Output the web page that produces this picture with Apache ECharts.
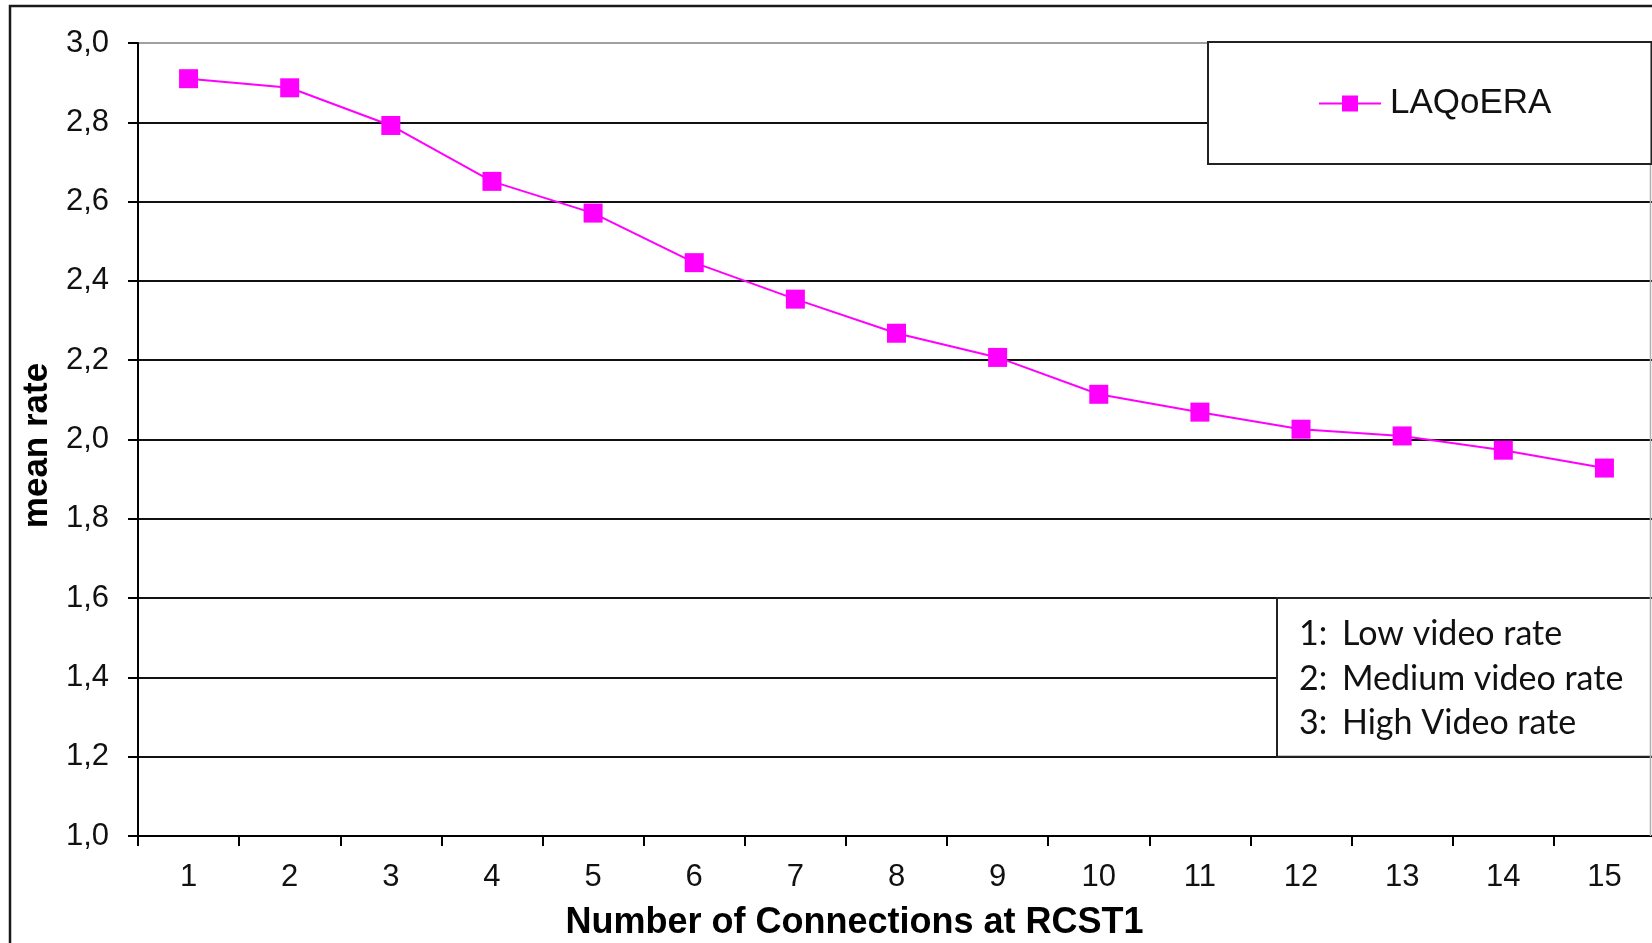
<!DOCTYPE html>
<html>
<head>
<meta charset="utf-8">
<script src="https://cdn.jsdelivr.net/npm/echarts@6/dist/echarts.min.js"></script>
<style>
  html, body { margin: 0; padding: 0; background: #fff; }
  #chart { width: 1652px; height: 943px; }
</style>
</head>
<body>
<div id="chart"></div>
<script>
// Connections at RCST1 (x categories)
const categories = ['1','2','3','4','5','6','7','8','9','10','11','12','13','14','15'];
// Mean rate achieved by LAQoERA
const laqoeraMeanRate = [2.910, 2.887, 2.792, 2.651, 2.571, 2.446, 2.354, 2.268, 2.207, 2.114, 2.069, 2.026, 2.009, 1.973, 1.928];
// Y tick labels (decimal comma)
const yTickLabels = ['1,0','1,2','1,4','1,6','1,8','2,0','2,2','2,4','2,6','2,8','3,0'];
// Rate-level key shown in the note box
const keyNumbers = ['1:', '2:', '3:'];
const keyTexts = ['Low video rate', 'Medium video rate', 'High Video rate'];

const AXIS_FONT = '"Liberation Sans", Arial, sans-serif';
const NOTE_FONT = 'Lato, "Open Sans", sans-serif';
const chart = echarts.init(document.getElementById('chart'), null, { renderer: 'canvas' });

// gridlines: black, the top one (3,0) drawn lighter like the plot border
const gridColors = yTickLabels.map((_, i) => i === yTickLabels.length - 1 ? '#a0a0a0' : '#111');

chart.setOption({
  animation: false,
  backgroundColor: '#fff',
  grid: {
    left: 138, top: 43, right: -3, bottom: 107,
    containLabel: false,
    outerBoundsMode: 'none',
    show: true, borderColor: '#a8a8a8', borderWidth: 1.5, backgroundColor: 'transparent'
  },
  legend: {
    left: 1208, top: 42,
    padding: [44, 100, 43, 110],
    backgroundColor: '#fff',
    borderColor: '#222', borderWidth: 2,
    itemWidth: 62, itemHeight: 20,
    textStyle: { fontFamily: AXIS_FONT, fontSize: 35, color: '#111', padding: [0, 0, 0, 4] },
    data: ['LAQoERA']
  },
  xAxis: {
    type: 'category',
    data: categories,
    boundaryGap: true,
    name: 'Number of Connections at RCST1',
    nameLocation: 'middle',
    nameGap: 69,
    nameTextStyle: { fontFamily: AXIS_FONT, fontSize: 36, fontWeight: 'bold', color: '#000', padding: [0, 84, 0, 0] },
    axisLine: { lineStyle: { color: '#000', width: 2 } },
    axisTick: { show: true, alignWithLabel: false, length: 10, lineStyle: { color: '#000', width: 2 } },
    axisLabel: { fontFamily: AXIS_FONT, fontSize: 31, color: '#111', margin: 26 },
    splitLine: { show: false }
  },
  yAxis: {
    type: 'value',
    min: 1.0, max: 3.0, interval: 0.2,
    name: 'mean rate',
    nameLocation: 'middle',
    nameRotate: 90,
    nameGap: 76,
    nameTextStyle: { fontFamily: AXIS_FONT, fontSize: 35, fontWeight: 'bold', color: '#000', padding: [0, 12, 0, 0] },
    axisLine: { show: true, lineStyle: { color: '#000', width: 2 } },
    axisTick: { show: true, length: 10, lineStyle: { color: '#000', width: 2 } },
    axisLabel: {
      fontFamily: AXIS_FONT, fontSize: 31, color: '#111', margin: 29,
      formatter: (v, i) => yTickLabels[i]
    },
    splitLine: { show: true, lineStyle: { color: gridColors, width: 2 } }
  },
  series: [{
    name: 'LAQoERA',
    type: 'line',
    data: laqoeraMeanRate,
    symbol: 'rect',
    symbolSize: 19,
    lineStyle: { color: '#ff00ff', width: 2 },
    itemStyle: { color: '#ff00ff' },
    z: 5
  }]
});

// Outer chart frame, right plot-area edge and the rate-level note box
// (the box is anchored to the 1,6 and 1,2 gridlines)
function drawOverlays() {
  const yTop = chart.convertToPixel({ yAxisIndex: 0 }, 1.6);
  const yBot = chart.convertToPixel({ yAxisIndex: 0 }, 1.2);
  const yMax = chart.convertToPixel({ yAxisIndex: 0 }, 3.0);
  const yMin = chart.convertToPixel({ yAxisIndex: 0 }, 1.0);
  const boxLeft = 1277;
  const children = [{
    type: 'rect',
    shape: { x: boxLeft, y: yTop, width: 500, height: yBot - yTop },
    style: { fill: '#fff', stroke: '#222', lineWidth: 2 }
  }];
  keyNumbers.forEach((n, i) => {
    const cy = yTop + 36 + i * 44.5;
    children.push({
      type: 'text', x: boxLeft + 22, y: cy,
      style: { text: n, fontFamily: NOTE_FONT, fontSize: 34, fill: '#111', verticalAlign: 'middle' }
    });
    children.push({
      type: 'text', x: boxLeft + 65, y: cy,
      style: { text: keyTexts[i], fontFamily: NOTE_FONT, fontSize: 34, fill: '#111', verticalAlign: 'middle' }
    });
  });
  chart.setOption({
    graphic: [
      {
        type: 'line', z: 1, silent: true,
        shape: { x1: 1650.5, y1: yMax, x2: 1650.5, y2: yMin },
        style: { stroke: '#b0b0b0', lineWidth: 1.5 }
      },
      {
        type: 'rect', z: 100, silent: true,
        shape: { x: 10, y: 6, width: 2000, height: 2000 },
        style: { fill: 'none', stroke: '#1a1a1a', lineWidth: 2.5 }
      },
      { type: 'group', z: 90, children: children }
    ]
  });
}
drawOverlays();
</script>
</body>
</html>
